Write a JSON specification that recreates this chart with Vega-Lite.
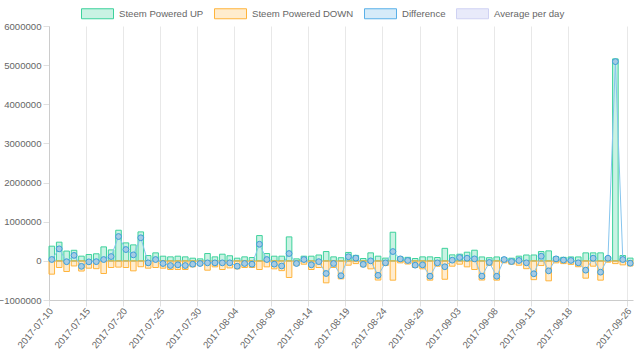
{
  "$schema": "https://vega.github.io/schema/vega-lite/v6.json",
  "width": 584,
  "height": 274,
  "autosize": {"type": "none"},
  "padding": {"left": 49, "top": 26, "right": 7, "bottom": 60},
  "config": {
    "font": "Liberation Sans",
    "view": {"stroke": null},
    "axis": {"labelColor": "#666", "labelFontSize": 9.6, "gridColor": "#e8e8e8", "domainColor": "#cccccc", "tickColor": "#e0e0e0", "tickSize": 6, "labelOverlap": false}
  },
  "data": {"values": [
    {"d":"2017-07-10","up":375000,"down":-340000,"diff":35000},
    {"d":"2017-07-11","up":477000,"down":-170000,"diff":307000},
    {"d":"2017-07-12","up":250000,"down":-272000,"diff":-22000},
    {"d":"2017-07-13","up":270000,"down":-130000,"diff":140000},
    {"d":"2017-07-14","up":120000,"down":-260000,"diff":-140000},
    {"d":"2017-07-15","up":162000,"down":-187000,"diff":-25000},
    {"d":"2017-07-16","up":180000,"down":-200000,"diff":-20000},
    {"d":"2017-07-17","up":357000,"down":-323000,"diff":34000},
    {"d":"2017-07-18","up":280000,"down":-170000,"diff":110000},
    {"d":"2017-07-19","up":782000,"down":-160000,"diff":622000},
    {"d":"2017-07-20","up":459000,"down":-170000,"diff":289000},
    {"d":"2017-07-21","up":408000,"down":-255000,"diff":153000},
    {"d":"2017-07-22","up":740000,"down":-150000,"diff":590000},
    {"d":"2017-07-23","up":136000,"down":-187000,"diff":-51000},
    {"d":"2017-07-24","up":204000,"down":-170000,"diff":34000},
    {"d":"2017-07-25","up":119000,"down":-187000,"diff":-68000},
    {"d":"2017-07-26","up":102000,"down":-221000,"diff":-119000},
    {"d":"2017-07-27","up":119000,"down":-221000,"diff":-102000},
    {"d":"2017-07-28","up":102000,"down":-221000,"diff":-119000},
    {"d":"2017-07-29","up":68000,"down":-153000,"diff":-85000},
    {"d":"2017-07-30","up":51000,"down":-119000,"diff":-68000},
    {"d":"2017-07-31","up":187000,"down":-238000,"diff":-51000},
    {"d":"2017-08-01","up":102000,"down":-153000,"diff":-51000},
    {"d":"2017-08-02","up":170000,"down":-221000,"diff":-51000},
    {"d":"2017-08-03","up":130000,"down":-180000,"diff":-50000},
    {"d":"2017-08-04","up":68000,"down":-204000,"diff":-136000},
    {"d":"2017-08-05","up":102000,"down":-170000,"diff":-68000},
    {"d":"2017-08-06","up":85000,"down":-170000,"diff":-85000},
    {"d":"2017-08-07","up":646000,"down":-221000,"diff":425000},
    {"d":"2017-08-08","up":187000,"down":-153000,"diff":34000},
    {"d":"2017-08-09","up":119000,"down":-204000,"diff":-85000},
    {"d":"2017-08-10","up":119000,"down":-250000,"diff":-131000},
    {"d":"2017-08-11","up":612000,"down":-425000,"diff":187000},
    {"d":"2017-08-12","up":51000,"down":-119000,"diff":-68000},
    {"d":"2017-08-13","up":119000,"down":-85000,"diff":34000},
    {"d":"2017-08-14","up":119000,"down":-221000,"diff":-102000},
    {"d":"2017-08-15","up":150000,"down":-170000,"diff":-20000},
    {"d":"2017-08-16","up":238000,"down":-561000,"diff":-323000},
    {"d":"2017-08-17","up":102000,"down":-170000,"diff":-68000},
    {"d":"2017-08-18","up":80000,"down":-460000,"diff":-380000},
    {"d":"2017-08-19","up":215000,"down":-110000,"diff":105000},
    {"d":"2017-08-20","up":140000,"down":-70000,"diff":70000},
    {"d":"2017-08-21","up":60000,"down":-150000,"diff":-90000},
    {"d":"2017-08-22","up":204000,"down":-204000,"diff":0},
    {"d":"2017-08-23","up":120000,"down":-490000,"diff":-370000},
    {"d":"2017-08-24","up":70000,"down":-120000,"diff":-50000},
    {"d":"2017-08-25","up":731000,"down":-493000,"diff":238000},
    {"d":"2017-08-26","up":102000,"down":-51000,"diff":51000},
    {"d":"2017-08-27","up":90000,"down":-80000,"diff":10000},
    {"d":"2017-08-28","up":60000,"down":-170000,"diff":-110000},
    {"d":"2017-08-29","up":102000,"down":-204000,"diff":-102000},
    {"d":"2017-08-30","up":102000,"down":-493000,"diff":-391000},
    {"d":"2017-08-31","up":85000,"down":-136000,"diff":-51000},
    {"d":"2017-09-01","up":320000,"down":-470000,"diff":-150000},
    {"d":"2017-09-02","up":153000,"down":-136000,"diff":17000},
    {"d":"2017-09-03","up":170000,"down":-85000,"diff":85000},
    {"d":"2017-09-04","up":221000,"down":-153000,"diff":68000},
    {"d":"2017-09-05","up":272000,"down":-221000,"diff":51000},
    {"d":"2017-09-06","up":100000,"down":-490000,"diff":-390000},
    {"d":"2017-09-07","up":80000,"down":-120000,"diff":-40000},
    {"d":"2017-09-08","up":100000,"down":-493000,"diff":-393000},
    {"d":"2017-09-09","up":85000,"down":-51000,"diff":34000},
    {"d":"2017-09-10","up":68000,"down":-85000,"diff":-17000},
    {"d":"2017-09-11","up":120000,"down":-110000,"diff":10000},
    {"d":"2017-09-12","up":150000,"down":-200000,"diff":-50000},
    {"d":"2017-09-13","up":150000,"down":-480000,"diff":-330000},
    {"d":"2017-09-14","up":238000,"down":-120000,"diff":118000},
    {"d":"2017-09-15","up":255000,"down":-510000,"diff":-255000},
    {"d":"2017-09-16","up":102000,"down":-51000,"diff":51000},
    {"d":"2017-09-17","up":90000,"down":-70000,"diff":20000},
    {"d":"2017-09-18","up":100000,"down":-90000,"diff":10000},
    {"d":"2017-09-19","up":100000,"down":-150000,"diff":-50000},
    {"d":"2017-09-20","up":204000,"down":-442000,"diff":-238000},
    {"d":"2017-09-21","up":204000,"down":-136000,"diff":68000},
    {"d":"2017-09-22","up":204000,"down":-493000,"diff":-289000},
    {"d":"2017-09-23","up":102000,"down":-34000,"diff":68000},
    {"d":"2017-09-24","up":5160000,"down":-70000,"diff":5090000},
    {"d":"2017-09-25","up":136000,"down":-102000,"diff":34000},
    {"d":"2017-09-26","up":70000,"down":-130000,"diff":-60000}
  ]},
  "encoding": {
    "x": {
      "field": "d", "type": "ordinal", "sort": null,
      "scale": {"type": "band", "paddingInner": 0.25, "paddingOuter": 0},
      "axis": {
        "title": null, "grid": true, "labelOverlap": false, "tickOffset": -3, "labelOffset": 2,
        "labelExpr": "indexof(['2017-07-10','2017-07-15','2017-07-20','2017-07-25','2017-07-30','2017-08-04','2017-08-09','2017-08-14','2017-08-19','2017-08-24','2017-08-29','2017-09-03','2017-09-08','2017-09-13','2017-09-18','2017-09-26'], datum.value) >= 0 ? datum.value : ''",
        "gridOpacity": {"condition": {"test": "indexof(['2017-07-10','2017-07-15','2017-07-20','2017-07-25','2017-07-30','2017-08-04','2017-08-09','2017-08-14','2017-08-19','2017-08-24','2017-08-29','2017-09-03','2017-09-08','2017-09-13','2017-09-18','2017-09-26'], datum.value) >= 0", "value": 1}, "value": 0},
        "tickOpacity": {"condition": {"test": "indexof(['2017-07-10','2017-07-15','2017-07-20','2017-07-25','2017-07-30','2017-08-04','2017-08-09','2017-08-14','2017-08-19','2017-08-24','2017-08-29','2017-09-03','2017-09-08','2017-09-13','2017-09-18','2017-09-26'], datum.value) >= 0", "value": 1}, "value": 0},
        "labelAngle": -50, "labelAlign": "right", "labelBaseline": "middle", "labelPadding": 3
      }
    },
    "y": {
      "type": "quantitative",
      "scale": {"domain": [-1000000, 6000000], "nice": false},
      "axis": {"title": null, "tickCount": 7, "format": "d", "labelPadding": 2, "labelOverlap": false}
    }
  },
  "layer": [
    {
      "mark": {"type": "rule", "color": "#cccccc", "strokeWidth": 1},
      "encoding": {"x": null, "y": {"datum": 0, "type": "quantitative"}}
    },
    {
      "transform": [{"fold": ["up", "down"], "as": ["k", "v"]}],
      "mark": {"type": "bar", "strokeWidth": 1},
      "encoding": {
        "y": {"field": "v", "type": "quantitative", "stack": null},
        "fill": {
          "field": "k", "type": "nominal",
          "scale": {"domain": ["up", "down", "diff", "avg"], "range": ["rgba(61,210,156,0.28)", "rgba(255,180,60,0.25)", "rgba(90,176,232,0.25)", "rgba(205,208,245,0.45)"]},
          "legend": {
            "orient": "none", "legendX": 32, "legendY": -29, "direction": "horizontal", "columns": 4, "title": null, "padding": 0,
            "symbolType": "M-1,-0.3125L1,-0.3125L1,0.3125L-1,0.3125Z", "symbolSize": 1024, "symbolStrokeWidth": 1,
            "labelFontSize": 9.6, "labelColor": "#666", "labelOffset": 5, "columnPadding": 8,
            "labelExpr": "datum.value == 'up' ? 'Steem Powered UP' : datum.value == 'down' ? 'Steem Powered DOWN' : datum.value == 'diff' ? 'Difference' : 'Average per day'"
          }
        },
        "stroke": {
          "field": "k", "type": "nominal",
          "scale": {"domain": ["up", "down", "diff", "avg"], "range": ["#3dd29c", "#ffb43c", "#5ab0e8", "#cfd2f3"]},
          "legend": {
            "orient": "none", "legendX": 32, "legendY": -29, "direction": "horizontal", "columns": 4, "title": null, "padding": 0,
            "symbolType": "M-1,-0.3125L1,-0.3125L1,0.3125L-1,0.3125Z", "symbolSize": 1024, "symbolStrokeWidth": 1,
            "labelFontSize": 9.6, "labelColor": "#666", "labelOffset": 5, "columnPadding": 8,
            "labelExpr": "datum.value == 'up' ? 'Steem Powered UP' : datum.value == 'down' ? 'Steem Powered DOWN' : datum.value == 'diff' ? 'Difference' : 'Average per day'"
          }
        }
      }
    },
    {
      "mark": {"type": "line", "color": "#86c5ee", "strokeWidth": 1},
      "encoding": {"y": {"field": "diff", "type": "quantitative"}}
    },
    {
      "mark": {"type": "point", "shape": "circle", "filled": true, "fill": "#a6cbe4", "stroke": "#3d9ed8", "strokeWidth": 1, "size": 34, "opacity": 1},
      "encoding": {"y": {"field": "diff", "type": "quantitative"}}
    }
  ]
}
